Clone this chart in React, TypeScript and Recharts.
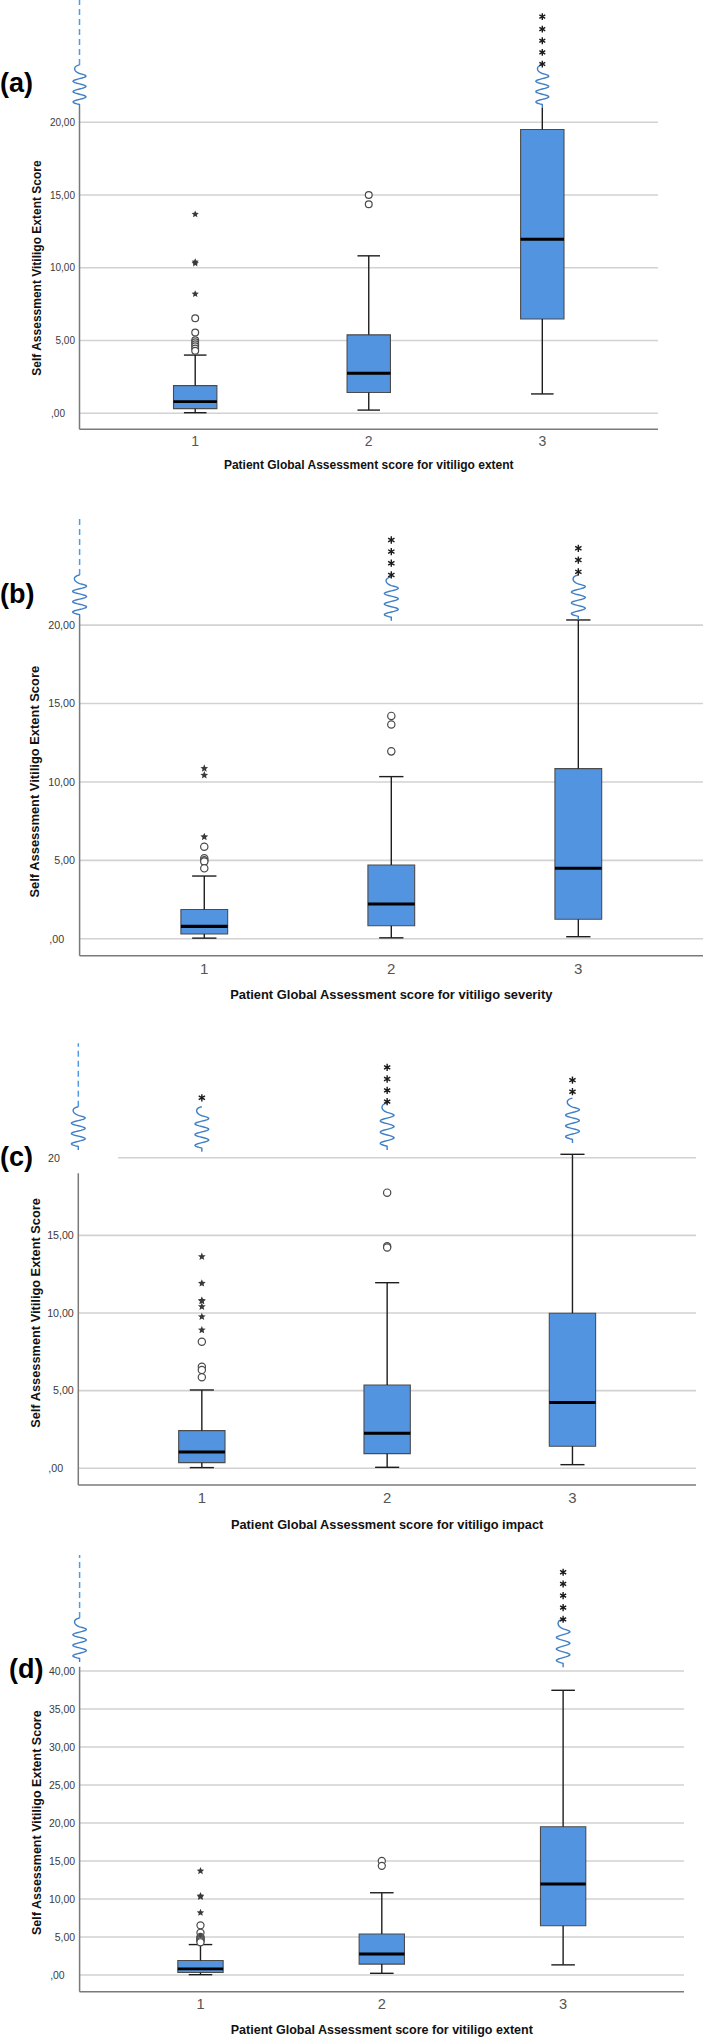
import React from 'react';
import { CartesianGrid, ComposedChart, ReferenceArea, ReferenceLine, Scatter, XAxis, YAxis } from 'recharts';

const categories = [1, 2, 3];
const xTickLabels = ['1', '2', '3'];

const yTicks20 = [0, 5, 10, 15, 20];
const yLabels20 = [',00', '5,00', '10,00', '15,00', '20,00'];
const yLabelsImpact = [',00', '5,00', '10,00', '15,00', '20'];
const yTicks40 = [0, 5, 10, 15, 20, 25, 30, 35, 40];
const yLabels40 = [',00', '5,00', '10,00', '15,00', '20,00', '25,00', '30,00', '35,00', '40,00'];

// vitiligo extent (panels a and d)
const extentLow = [0.04, 0.22, 1.33];
const extentQ1 = [0.32, 1.43, 6.48];
const extentMedian = [0.8, 2.75, 11.96];
const extentQ3 = [1.9, 5.39, 19.5];
const extentHigh = [4.0, 10.82, 37.46];
const extentCircles = [[6.53, 5.55, 5.02, 4.88, 4.74, 4.6, 4.45, 4.3], [15.0, 14.36], []];
const extentStars = [[13.68, 10.4, 10.3, 8.2], [], []];

// vitiligo severity (panel b)
const severityLow = [0.04, 0.06, 0.13];
const severityQ1 = [0.3, 0.83, 1.24];
const severityMedian = [0.79, 2.21, 4.49];
const severityQ3 = [1.87, 4.7, 10.85];
const severityHigh = [4.0, 10.34, 20.33];
const severityCircles = [[5.87, 5.13, 5.0, 4.92, 4.49], [14.21, 13.66, 11.95], []];
const severityStars = [[10.86, 10.43, 6.5], [], []];

// vitiligo impact (panel c)
const impactLow = [0.04, 0.06, 0.23];
const impactQ1 = [0.36, 0.94, 1.42];
const impactMedian = [1.05, 2.25, 4.23];
const impactQ3 = [2.42, 5.36, 9.98];
const impactHigh = [5.04, 11.95, 20.22];
const impactCircles = [[8.15, 6.54, 6.33, 5.86], [17.75, 14.3, 14.22], []];
const impactStars = [[13.63, 11.91, 10.8, 10.77, 10.41, 9.76, 8.9], [], []];

// extreme cases stacked above the axis break (stretched-axis units)
const extremesA = [[], [], [24.0, 24.8, 25.6, 26.4, 27.26]];
const extremesB = [[], [23.2, 23.95, 24.69, 25.43], [23.4, 24.15, 24.9]];
const extremesC = [[23.86], [23.61, 24.34, 25.07, 25.82], [24.25, 25.0]];
const extremesD = [[], [], [46.8, 48.33, 49.91, 51.45, 52.99]];

// break marks per category: [bottom, top]
const breaksA = [null, null, [20.98, 23.94]];
const breaksB = [null, [20.28, 23.08], [20.33, 23.2]];
const breaksC = [[20.39, 23.28], [20.5, 23.52], [20.95, 23.84]];
const breaksD = [null, null, [40.5, 46.8]];

const FONT = "'Liberation Sans', Arial, sans-serif";
const NARROW = "'Liberation Sans Narrow', 'Arial Narrow', 'Liberation Sans', Arial, sans-serif";
const BOX_FILL = '#5394e1';
const BREAK_BLUE = '#3f7fc6';
const HALF = 0.125;
const CAP = 0.065;

type Panel = {
  id: string;
  label: string;
  xTitle: string;
  top: number;
  height: number;
  left: number;
  right: number;
  plotBottom: number;
  scale: number;
  domain: [number, number];
  yTicks: number[];
  yLabels: string[];
  grid: number[];
  partialGrid?: { y: number; from: number };
  low: number[];
  q1: number[];
  median: number[];
  q3: number[];
  high: number[];
  circles: number[][];
  stars: number[][];
  extremes: number[][];
  breaks: (number[] | null)[];
  axisBreak: [number, number];
  dashedTop: number;
  axisTop: number;
  whiskerClip: number;
  labelX: number;
  labelY: number;
  yTitleX: number;
  yTitleY: number;
  xTitleY: number;
};

const panels: Panel[] = [
  {
    id: 'a', label: '(a)', xTitle: 'Patient Global Assessment score for vitiligo extent',
    top: 0, height: 500, left: 79.5, right: 51, plotBottom: 429.3, scale: 1,
    domain: [-1.1, 28.4], yTicks: yTicks20, yLabels: yLabels20, grid: yTicks20,
    low: extentLow, q1: extentQ1, median: extentMedian, q3: extentQ3, high: extentHigh,
    circles: extentCircles, stars: extentStars, extremes: extremesA, breaks: breaksA,
    axisBreak: [20.98, 23.94], dashedTop: 28.4, axisTop: 20.98, whiskerClip: 20.98,
    labelX: 0, labelY: 91.5, yTitleX: 41, yTitleY: 268, xTitleY: 468.6,
  },
  {
    id: 'b', label: '(b)', xTitle: 'Patient Global Assessment score for vitiligo severity',
    top: 500, height: 520, left: 79.6, right: 6, plotBottom: 455.7, scale: 1.077,
    domain: [-1.08, 27.98], yTicks: yTicks20, yLabels: yLabels20, grid: yTicks20,
    low: severityLow, q1: severityQ1, median: severityMedian, q3: severityQ3, high: severityHigh,
    circles: severityCircles, stars: severityStars, extremes: extremesB, breaks: breaksB,
    axisBreak: [20.45, 23.2], dashedTop: 27.02, axisTop: 20.45, whiskerClip: Infinity,
    labelX: 0, labelY: 102.7, yTitleX: 39, yTitleY: 281.7, xTitleY: 499.3,
  },
  {
    id: 'c', label: '(c)', xTitle: 'Patient Global Assessment score for vitiligo impact',
    top: 1020, height: 510, left: 78.3, right: 13, plotBottom: 465, scale: 1.067,
    domain: [-1.08, 28.87], yTicks: yTicks20, yLabels: yLabelsImpact, grid: [0, 5, 10, 15],
    partialGrid: { y: 20, from: 0.548 },
    low: impactLow, q1: impactQ1, median: impactMedian, q3: impactQ3, high: impactHigh,
    circles: impactCircles, stars: impactStars, extremes: extremesC, breaks: breaksC,
    axisBreak: [20.5, 23.28], dashedTop: 27.37, axisTop: 19.0, whiskerClip: Infinity,
    labelX: 0, labelY: 145.5, yTitleX: 40, yTitleY: 293, xTitleY: 509,
  },
  {
    id: 'd', label: '(d)', xTitle: 'Patient Global Assessment score for vitiligo extent',
    top: 1530, height: 508, left: 79.6, right: 25, plotBottom: 461.7, scale: 1.044,
    domain: [-2.2, 58.55], yTicks: yTicks40, yLabels: yLabels40, grid: yTicks40,
    low: extentLow, q1: extentQ1, median: extentMedian, q3: extentQ3, high: extentHigh,
    circles: extentCircles, stars: extentStars, extremes: extremesD, breaks: breaksD,
    axisBreak: [41.18, 46.97], dashedTop: 55.26, axisTop: 40.57, whiskerClip: Infinity,
    labelX: 9, labelY: 148, yTitleX: 41, yTitleY: 292.7, xTitleY: 504,
  },
];

const toPoints = (groups: number[][]) =>
  groups.flatMap((vals, i) => vals.map((y) => ({ x: categories[i], y })));

const squigglePath = (x: number, y1: number, y2: number, amp: number) => {
  const yTop = Math.min(y1, y2);
  const yBot = Math.max(y1, y2);
  const h = yBot - yTop;
  const hookEnd = yTop + h * 0.2;
  let d = `M${x},${yTop} C${x - amp},${yTop + h * 0.03} ${x - amp},${hookEnd - h * 0.06} ${x},${hookEnd}`;
  const waveBot = yBot - h * 0.08;
  const n = 48;
  for (let i = 1; i <= n; i++) {
    const t = i / n;
    const yy = hookEnd + (waveBot - hookEnd) * t;
    const xx = x + amp * Math.sin(t * Math.PI * 6);
    d += ` L${xx.toFixed(2)},${yy.toFixed(2)}`;
  }
  return d + ` L${x},${yBot}`;
};

const Squiggle = (props: any, amp: number) => (
  <path d={squigglePath(props.x1, props.y1, props.y2, amp)} fill="none" stroke={BREAK_BLUE} strokeWidth={1.4} strokeLinejoin="round" />
);

const starPath = (cx: number, cy: number, r: number) => {
  const pts: string[] = [];
  for (let i = 0; i < 10; i++) {
    const rr = i % 2 === 0 ? r : r * 0.45;
    const a = -Math.PI / 2 + (i * Math.PI) / 5;
    pts.push(`${(cx + rr * Math.cos(a)).toFixed(2)},${(cy + rr * Math.sin(a)).toFixed(2)}`);
  }
  return `M${pts.join(' L')} Z`;
};

const asteriskPath = (cx: number, cy: number, r: number) => {
  let d = '';
  for (let i = 0; i < 3; i++) {
    const a = Math.PI / 2 + (i * Math.PI) / 3;
    const dx = r * Math.cos(a);
    const dy = r * Math.sin(a);
    d += `M${(cx - dx).toFixed(2)},${(cy - dy).toFixed(2)} L${(cx + dx).toFixed(2)},${(cy + dy).toFixed(2)} `;
  }
  return d;
};

const BoxPanel = ({ p }: { p: Panel }) => {
  const s = p.scale;
  const plotCenter = (p.left + 709 - p.right) / 2;
  const xMin = 1 / 3;
  const xMax = 11 / 3;
  const lineStyle = { stroke: '#1e1e1e', strokeWidth: 1.4 };

  const YTick = (props: any) => {
    const idx = p.yTicks.indexOf(props.payload.value);
    const label = p.yLabels[idx] ?? '';
    const shift = label.startsWith(',') ? -10 * s : label.includes(',') ? 0 : -13 * s;
    return (
      <text x={props.x + shift} y={props.y} dy="0.355em" textAnchor="end" fontSize={10 * s} fill="#3a3a3a" fontFamily={NARROW}>
        {label}
      </text>
    );
  };

  return (
    <div style={{ position: 'absolute', left: 0, top: p.top, width: 709, height: p.height }}>
      <ComposedChart
        width={709}
        height={p.height}
        margin={{ top: 0, right: p.right, bottom: p.height - p.plotBottom - 30, left: 0 }}
      >
        <CartesianGrid vertical={false} horizontalValues={p.grid} stroke="#d2d2d2" strokeWidth={1.6} />
        <XAxis
          type="number"
          dataKey="x"
          domain={[xMin, xMax]}
          ticks={categories}
          allowDataOverflow
          height={30}
          axisLine={{ stroke: '#7a7a7a', strokeWidth: 1.5 }}
          tickLine={false}
          tickSize={0}
          tickMargin={7 * s}
          tick={{ fontSize: 14 * s, fill: '#555', fontFamily: NARROW }}
          tickFormatter={(v: number) => xTickLabels[categories.indexOf(v)]}
        />
        <YAxis
          type="number"
          dataKey="y"
          domain={p.domain}
          ticks={p.yTicks}
          allowDataOverflow
          width={p.left}
          axisLine={false}
          tickLine={false}
          tickSize={0}
          tickMargin={4.5}
          tick={YTick}
        />
        {p.partialGrid && (
          <ReferenceLine
            segment={[{ x: p.partialGrid.from, y: p.partialGrid.y }, { x: xMax, y: p.partialGrid.y }]}
            stroke="#d2d2d2"
            strokeWidth={1.6}
            ifOverflow="visible"
          />
        )}
        {/* y axis line, dashed continuation and its break mark */}
        <ReferenceLine segment={[{ x: xMin, y: p.domain[0] }, { x: xMin, y: p.axisTop }]} stroke="#7a7a7a" strokeWidth={1.5} ifOverflow="visible" />
        <ReferenceLine
          segment={[{ x: xMin, y: p.axisBreak[1] }, { x: xMin, y: p.dashedTop }]}
          stroke="#4f9ae6"
          strokeWidth={1.5}
          strokeDasharray="6 4"
          ifOverflow="visible"
        />
        <ReferenceLine
          segment={[{ x: xMin, y: p.axisBreak[0] }, { x: xMin, y: p.axisBreak[1] }]}
          ifOverflow="visible"
          shape={(props: any) => Squiggle(props, 6.5 * s)}
        />
        {categories.map((c, i) => {
          const top = Math.min(p.high[i], p.whiskerClip);
          return (
            <React.Fragment key={`w${c}`}>
              <ReferenceLine segment={[{ x: c, y: p.q3[i] }, { x: c, y: top }]} {...lineStyle} ifOverflow="visible" />
              <ReferenceLine segment={[{ x: c, y: p.q1[i] }, { x: c, y: p.low[i] }]} {...lineStyle} ifOverflow="visible" />
              <ReferenceLine segment={[{ x: c - CAP, y: p.low[i] }, { x: c + CAP, y: p.low[i] }]} {...lineStyle} ifOverflow="visible" />
              {p.high[i] <= p.whiskerClip && (
                <ReferenceLine segment={[{ x: c - CAP, y: p.high[i] }, { x: c + CAP, y: p.high[i] }]} {...lineStyle} ifOverflow="visible" />
              )}
            </React.Fragment>
          );
        })}
        {categories.map((c, i) => (
          <ReferenceArea
            key={`b${c}`}
            x1={c - HALF}
            x2={c + HALF}
            y1={p.q1[i]}
            y2={p.q3[i]}
            fill={BOX_FILL}
            fillOpacity={1}
            stroke="#4b4b4b"
            strokeWidth={1.1}
            ifOverflow="visible"
          />
        ))}
        {categories.map((c, i) => (
          <ReferenceLine
            key={`m${c}`}
            segment={[{ x: c - HALF, y: p.median[i] }, { x: c + HALF, y: p.median[i] }]}
            stroke="#000"
            strokeWidth={2.8 * s}
            ifOverflow="visible"
          />
        ))}
        {categories.map((c, i) => {
          const b = p.breaks[i];
          if (!b) return null;
          return (
            <ReferenceLine
              key={`k${c}`}
              segment={[{ x: c, y: b[0] }, { x: c, y: b[1] }]}
              ifOverflow="visible"
              shape={(props: any) => Squiggle(props, 6.5 * s)}
            />
          );
        })}
        <Scatter
          data={toPoints(p.circles)}
          dataKey="y"
          isAnimationActive={false}
          shape={(props: any) => <circle cx={props.cx} cy={props.cy} r={3.4 * s} fill="#fff" stroke="#4a4a4a" strokeWidth={1.2} />}
        />
        <Scatter
          data={toPoints(p.stars)}
          dataKey="y"
          isAnimationActive={false}
          shape={(props: any) => <path d={starPath(props.cx, props.cy, 3.8 * s)} fill="#3a3a3a" />}
        />
        <Scatter
          data={toPoints(p.extremes)}
          dataKey="y"
          isAnimationActive={false}
          shape={(props: any) => (
            <path d={asteriskPath(props.cx, props.cy, 3.4 * s)} fill="none" stroke="#1a1a1a" strokeWidth={1.4} />
          )}
        />
      </ComposedChart>
      <svg
        width={709}
        height={p.height}
        overflow="visible"
        style={{ position: 'absolute', left: 0, top: 0, pointerEvents: 'none', overflow: 'visible' }}
      >
        <text x={p.labelX} y={p.labelY} fontSize={27} fontWeight="bold" fontFamily={FONT} fill="#000">
          {p.label}
        </text>
        <text
          x={p.yTitleX}
          y={p.yTitleY}
          transform={`rotate(-90 ${p.yTitleX} ${p.yTitleY})`}
          textAnchor="middle"
          fontSize={12 * s}
          fontWeight="bold"
          fontFamily={FONT}
          fill="#111"
        >
          Self Assessment Vitiligo Extent Score
        </text>
        <text x={plotCenter} y={p.xTitleY} textAnchor="middle" fontSize={12 * s} fontWeight="bold" fontFamily={FONT} fill="#111">
          {p.xTitle}
        </text>
      </svg>
    </div>
  );
};

const App = () => (
  <div style={{ position: 'absolute', left: 0, top: 0, width: 709, height: 2038, background: '#fff' }}>
    {panels.map((p) => (
      <BoxPanel key={p.id} p={p} />
    ))}
  </div>
);

export default App;
